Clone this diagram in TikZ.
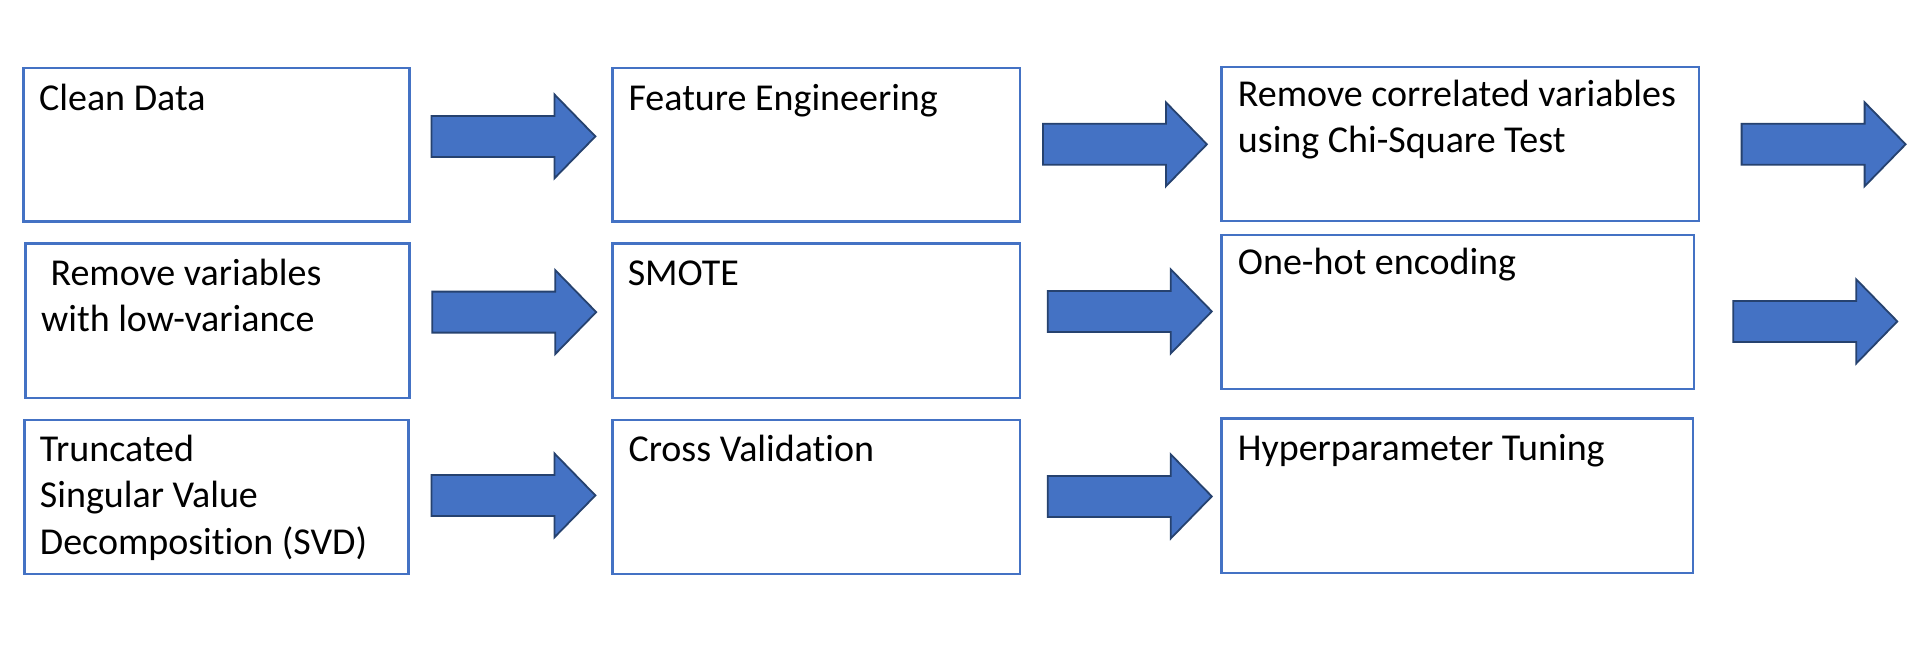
\documentclass[tikz,border=0pt]{standalone}
\usepackage{fontspec}
\setmainfont{Carlito}[Ligatures=NoCommon]
\usetikzlibrary{fit,calc}
\definecolor{boxblue}{HTML}{4472C4}
\definecolor{arrowfill}{HTML}{4472C4}
\definecolor{arrowedge}{HTML}{26426F}
\tikzset{
  box/.style={draw=boxblue, line width=1.25pt, inner sep=0pt, fill=white},
  txt/.style={inner sep=0pt, align=left, font=\fontsize{19}{23.2}\selectfont, text=black},
  blockarrow/.pic={
    \draw[fill=arrowfill, draw=arrowedge, line width=0.9pt, line join=miter]
      (0,-20.5) -- (123,-20.5) -- (123,-42) -- (164,0) -- (123,42) -- (123,20.5) -- (0,20.5) -- cycle;
  }
}
\begin{document}
\begin{tikzpicture}[x=0.5pt,y=-0.5pt]
\useasboundingbox[fill=white] (0,0) rectangle (1916,648);
% boxes
\node[box, fit={(23.7,67.9) (409.4,221.4)}] (b1) {};
\node[box, fit={(612.7,67.9) (1020,221.4)}] (b2) {};
\node[box, fit={(1221.5,66.8) (1699.1,221.1)}] (b3) {};
\node[box, fit={(25.7,243.6) (409.4,397.9)}] (b4) {};
\node[box, fit={(612.7,243.6) (1020,397.9)}] (b5) {};
\node[box, fit={(1221.5,235) (1694.1,389)}] (b6) {};
\node[box, fit={(24.5,420) (408.6,574)}] (b7) {};
\node[box, fit={(612.7,420) (1020,574)}] (b8) {};
\node[box, fit={(1221.5,418.6) (1693.2,573.2)}] (b9) {};
% texts (base anchor of a multi-line node is the baseline of its last line)
\node[txt, anchor=base west] (t1) at ($(b1.north west)+(16.3,43.5)$) {Clean Data};
\node[txt, anchor=base west] (t2) at ($(b2.north west)+(16.7,43.5)$) {Feature Engineering};
\node[txt, anchor=base west] (t3) at ($(b3.north west)+(17.3,87.4)$) {Remove correlated variables\\using Chi-Square Test};
\node[txt, anchor=base west] (t4) at ($(b4.north west)+(16.3,89.2)$) {\hspace*{4.7pt}Remove variables\\with low-variance};
\node[txt, anchor=base west] (t5) at ($(b5.north west)+(15.9,42.8)$) {SMOTE};
\node[txt, anchor=base west] (t6) at ($(b6.north west)+(17.3,40.7)$) {One-hot encoding};
\node[txt, anchor=base west] (t7) at ($(b7.north west)+(16.3,135.3)$) {Truncated\\Singular Value\\Decomposition (SVD)};
\node[txt, anchor=base west] (t8) at ($(b8.north west)+(16.7,42.5)$) {Cross Validation};
\node[txt, anchor=base west] (t9) at ($(b9.north west)+(17.3,42.8)$) {Hyperparameter Tuning};
% block arrows
\pic (a1) at (431.4,136.4) {blockarrow};
\pic (a2) at (432.2,312.1) {blockarrow};
\pic (a3) at (431.4,495.4) {blockarrow};
\pic (a4) at (1042.9,144.3) {blockarrow};
\pic (a5) at (1047.8,311.4) {blockarrow};
\pic (a6) at (1047.8,496.4) {blockarrow};
\pic (a7) at (1741.6,144.3) {blockarrow};
\pic (a8) at (1733.3,321.4) {blockarrow};
\end{tikzpicture}
\end{document}
